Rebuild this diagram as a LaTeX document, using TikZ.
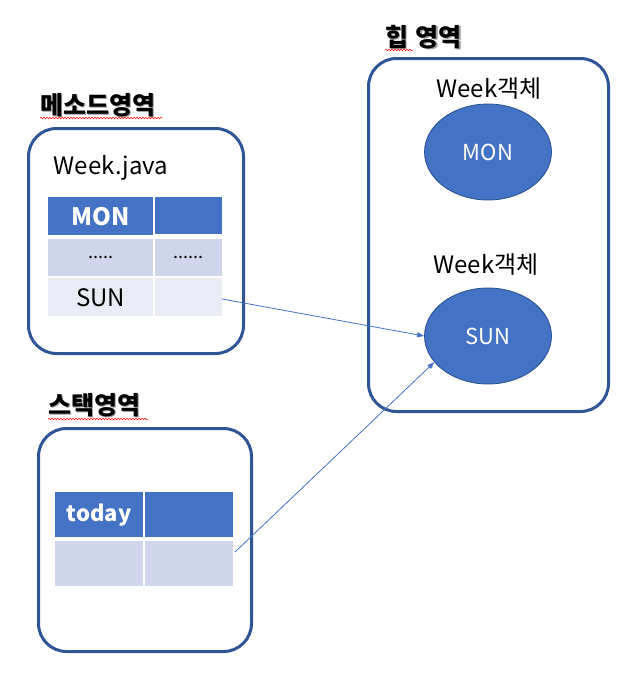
\documentclass[tikz,border=0pt]{standalone}
\usepackage{fontspec}
\setmainfont{Noto Sans CJK KR}
\usetikzlibrary{shapes.geometric,arrows.meta,decorations.pathmorphing}
\definecolor{boxblue}{HTML}{2F5597}
\definecolor{acc}{HTML}{4472C4}
\definecolor{rowb}{HTML}{CFD5EA}
\definecolor{rowc}{HTML}{E9EBF5}
\definecolor{ellb}{HTML}{2F528F}
\definecolor{shadowgray}{HTML}{9A9A9A}
\tikzset{
  area/.style={draw=boxblue, line width=3pt, rounded corners=28pt},
  ttl/.style={font=\fontsize{25}{28}\selectfont\bfseries, inner sep=0pt, anchor=west},
  ttlsh/.style={ttl, text=shadowgray},
  squig/.style={draw=red, line width=0.5pt, decorate, decoration={snake, amplitude=0.8pt, segment length=3pt}},
  cell/.style={inner sep=0pt, anchor=north west, minimum height=#1},
  lbl/.style={font=\fontsize{24}{28}\selectfont, inner sep=0pt},
  obj/.style={ellipse, draw=ellb, line width=0.8pt, fill=acc, text=white, minimum width=127pt, minimum height=96pt, font=\fontsize{22}{26}\selectfont},
  arr/.style={draw=acc, line width=0.8pt, -{Triangle[length=7pt,width=5pt]}},
}
\begin{document}
\begin{tikzpicture}[x=1pt,y=-1pt]
\useasboundingbox (0,0) rectangle (631,683);

% ---------- method area ----------
\node[ttlsh] (t1s) at (41.5,106.5) {메소드영역};
\node[ttl] (t1) at (40,105) {메소드영역};
\draw[squig] (40,118) -- (162,118);
\node[area, minimum width=215pt, minimum height=225pt, anchor=north west] (marea) at (27,127) {};
\node[lbl] (wj) at (111,168) {Week.java};
\node[cell=38pt, minimum width=105pt, fill=acc, text=white, font=\fontsize{24}{28}\selectfont\bfseries] (m11) at (48,197) {MON};
\node[cell=37pt, minimum width=67pt, fill=acc] (m12) at (155,197) {};
\node[cell=37pt, minimum width=105pt, fill=rowb, font=\fontsize{18}{20}\selectfont] (m21) at (48,239) {.....};
\node[cell=37pt, minimum width=67pt, fill=rowb, font=\fontsize{18}{20}\selectfont] (m22) at (155,239) {......};
\node[cell=38pt, minimum width=105pt, fill=rowc, font=\fontsize{24}{28}\selectfont] (m31) at (48,278) {SUN};
\node[cell=38pt, minimum width=67pt, fill=rowc] (m32) at (155,278) {};

% ---------- heap area ----------
\node[ttlsh] (t2s) at (386.5,38.5) {힙\hspace{0.3em}영역};
\node[ttl] (t2) at (385,37) {힙\hspace{0.3em}영역};
\draw[squig] (385,50) -- (413,50);
\node[area, minimum width=240pt, minimum height=353pt, anchor=north west] (harea) at (367,57) {};
\node[lbl] (wo1) at (489,89) {Week객체};
\node[obj] (mon) at (488,152) {MON};
\node[lbl] (wo2) at (486,265) {Week객체};
\node[obj] (sun) at (488,336) {SUN};

% ---------- stack area ----------
\node[ttlsh] (t3s) at (49.5,406.5) {스택영역};
\node[ttl] (t3) at (48,405) {스택영역};
\draw[squig] (48,419) -- (148,419);
\node[area, minimum width=213pt, minimum height=223pt, anchor=north west] (sarea) at (37,427) {};
\node[cell=45pt, minimum width=88pt, fill=acc, text=white, font=\fontsize{22}{26}\selectfont\bfseries] (s11) at (55,492) {today};
\node[cell=45pt, minimum width=88pt, fill=acc] (s12) at (145,492) {};
\node[cell=45pt, minimum width=88pt, fill=rowb] (s21) at (55,541) {};
\node[cell=45pt, minimum width=88pt, fill=rowb] (s22) at (145,541) {};

% ---------- arrows ----------
\coordinate (a1) at (222,299);
\coordinate (a2) at (235,552);
\draw[arr] (a1) -- (sun.west);
\draw[arr] (a2) -- (sun.206);
\end{tikzpicture}
\end{document}
